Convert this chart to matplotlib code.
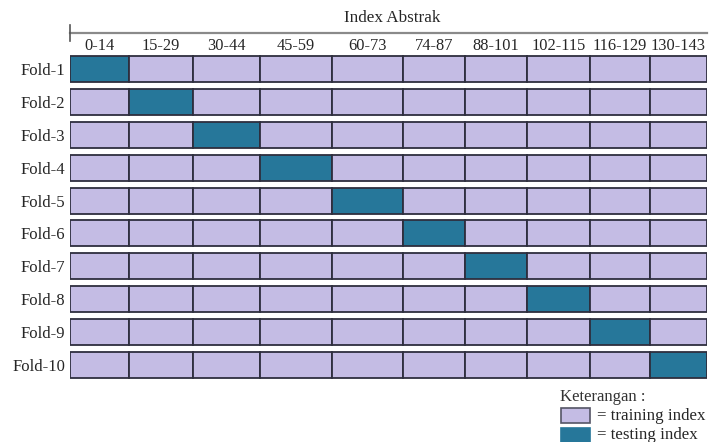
import matplotlib.pyplot as plt
from matplotlib.lines import Line2D
from matplotlib.patches import Rectangle

folds = ["Fold-1", "Fold-2", "Fold-3", "Fold-4", "Fold-5",
         "Fold-6", "Fold-7", "Fold-8", "Fold-9", "Fold-10"]
ranges = ["0-14", "15-29", "30-44", "45-59", "60-73",
          "74-87", "88-101", "102-115", "116-129", "130-143"]
# column used for testing in each fold
test_col = [0, 1, 2, 3, 4, 5, 6, 7, 8, 9]

# drawn widths of the columns (layout only, not data)
col_w = [59, 64, 67, 72, 71, 62, 62, 63, 60, 57]

train_c = "#c4bce4"
test_c = "#26779a"
edge_c = "#2e2e3e"

plt.rcParams['font.family'] = ['Liberation Serif', 'DejaVu Serif']

W, H = 709, 442
fig = plt.figure(figsize=(W / 100, H / 100), dpi=100)
ax = fig.add_axes([70 / W, 1 - 381 / H, 637 / W, 328 / H])

lefts = [sum(col_w[:j]) for j in range(len(col_w))]
for i, f in enumerate(folds):
    colors = [test_c if j == test_col[i] else train_c for j in range(len(ranges))]
    ax.barh([i] * len(ranges), col_w, left=lefts, height=0.79,
            color=colors, edgecolor=edge_c, linewidth=1.3)

ax.set_xlim(0, sum(col_w))
ax.set_ylim(len(folds) - 0.5, -0.5)
ax.set_yticks(range(len(folds)))
ax.set_yticklabels(folds, fontsize=12, color="#262626")
ax.tick_params(axis='y', length=0, pad=3.5)
ax.set_xticks([l + w / 2 for l, w in zip(lefts, col_w)])
ax.set_xticklabels(ranges, fontsize=11.8, color="#262626")
ax.xaxis.tick_top()
ax.tick_params(axis='x', length=0, pad=-1)
for s in ax.spines.values():
    s.set_visible(False)

# header line with the small tick at the start
fig.add_artist(Line2D([70 / W, 707 / W], [1 - 33 / H, 1 - 33 / H],
                      color="#8a8a8a", lw=1.6))
fig.add_artist(Line2D([70 / W, 70 / W], [1 - 25 / H, 1 - 41 / H],
                      color="#555555", lw=1.2))
fig.text(392 / W, 1 - 18 / H, "Index Abstrak", ha='center', va='center',
         fontsize=12.3, color="#262626")

# legend
fig.text(560 / W, 1 - 397 / H, "Keterangan :", ha='left', va='center',
         fontsize=12, color="#333333")
fig.add_artist(Rectangle((561 / W, 1 - 423 / H), 29 / W, 15 / H,
                         transform=fig.transFigure, facecolor=train_c,
                         edgecolor="#555566", lw=1.2))
fig.add_artist(Rectangle((561 / W, 1 - 443 / H), 29 / W, 15 / H,
                         transform=fig.transFigure, facecolor=test_c,
                         edgecolor=test_c, lw=1.2))
fig.text(597 / W, 1 - 416 / H, "= training index", ha='left', va='center',
         fontsize=12.2, color="#262626")
fig.text(597 / W, 1 - 435 / H, "= testing index", ha='left', va='center',
         fontsize=12.2, color="#262626")

fig.savefig("out.png", dpi=100)
